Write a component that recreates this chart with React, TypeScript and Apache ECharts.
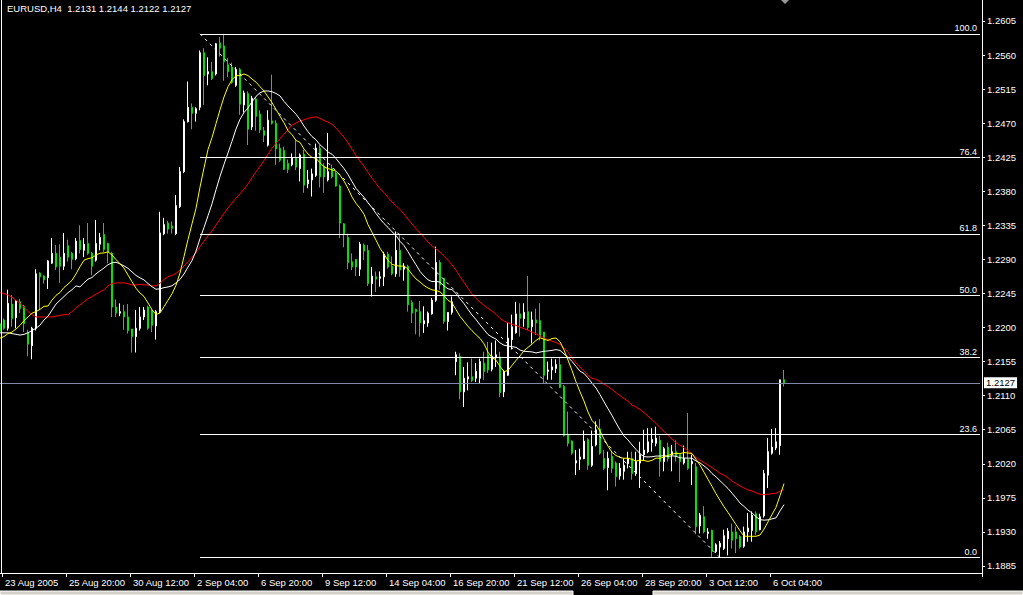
import React, { useEffect, useRef } from "react";
import * as echarts from "echarts";

// EURUSD H4 bars, 23 Aug 2005 00:00 onward
const open = [
  1.2205, 1.2210, 1.2199, 1.2231, 1.2213, 1.2234, 1.2228, 1.2193, 1.2176, 1.2199,
  1.2272, 1.2268, 1.2266, 1.2285, 1.2298, 1.2293, 1.2281, 1.2308, 1.2298, 1.2291,
  1.2315, 1.2302, 1.2311, 1.2298, 1.2289, 1.2310, 1.2323, 1.2311, 1.2298, 1.2227,
  1.2219, 1.2221, 1.2214, 1.2198, 1.2188, 1.2199, 1.2214, 1.2227, 1.2223, 1.2202,
  1.2221, 1.2324, 1.2338, 1.2334, 1.2324, 1.2360, 1.2406, 1.2472, 1.2491, 1.2483,
  1.2491, 1.2563, 1.2535, 1.2538, 1.2535, 1.2576, 1.2572, 1.2547, 1.2544, 1.2520,
  1.2541, 1.2494, 1.2509, 1.2465, 1.2502, 1.2482, 1.2460, 1.2441, 1.2473, 1.2470,
  1.2437, 1.2434, 1.2417, 1.2415, 1.2424, 1.2410, 1.2429, 1.2390, 1.2395, 1.2401,
  1.2437, 1.2413, 1.2395, 1.2410, 1.2404, 1.2387, 1.2337, 1.2319, 1.2287, 1.2290,
  1.2277, 1.2309, 1.2302, 1.2258, 1.2267, 1.2265, 1.2267, 1.2297, 1.2281, 1.2271,
  1.2302, 1.2277, 1.2281, 1.2233, 1.2224, 1.2221, 1.2205, 1.2206, 1.2218, 1.2236,
  1.2286, 1.2265, 1.2208, 1.2220, 1.2155, 1.2162, 1.2115, 1.2132, 1.2135, 1.2133,
  1.2133, 1.2153, 1.2164, 1.2145, 1.2160, 1.2161, 1.2115, 1.2137, 1.2184, 1.2193,
  1.2218, 1.2212, 1.2221, 1.2201, 1.2210, 1.2209, 1.2194, 1.2142, 1.2144, 1.2146,
  1.2151, 1.2122, 1.2059, 1.2050, 1.2021, 1.2026, 1.2027, 1.2052, 1.2018, 1.2045,
  1.2066, 1.2027, 1.2015, 1.2030, 1.2021, 1.2004, 1.2010, 1.2020, 1.2027, 1.2007,
  1.2021, 1.2032, 1.2036, 1.2048, 1.2047, 1.2051, 1.2023, 1.2042, 1.2032, 1.2036,
  1.2032, 1.2021, 1.2026, 1.2020, 1.2016, 1.1938, 1.1950, 1.1928, 1.1932, 1.1904,
  1.1910, 1.1908, 1.1921, 1.1930, 1.1930, 1.1924, 1.1911, 1.1930, 1.1932, 1.1954,
  1.1933, 1.1951, 1.2005, 1.2034, 1.2041, 1.2044, 1.2131,
];

const high = [
  1.2212, 1.2212, 1.2250, 1.2243, 1.2236, 1.2238, 1.2230, 1.2197, 1.2201, 1.2277,
  1.2273, 1.2269, 1.2289, 1.2318, 1.2309, 1.2310, 1.2325, 1.2316, 1.2300, 1.2318,
  1.2335, 1.2318, 1.2338, 1.2300, 1.2342, 1.2325, 1.2338, 1.2312, 1.2300, 1.2237,
  1.2232, 1.2230, 1.2231, 1.2198, 1.2223, 1.2227, 1.2227, 1.2229, 1.2224, 1.2223,
  1.2353, 1.2345, 1.2341, 1.2340, 1.2375, 1.2412, 1.2475, 1.2525, 1.2496, 1.2491,
  1.2566, 1.2569, 1.2557, 1.2551, 1.2576, 1.2584, 1.2588, 1.2556, 1.2550, 1.2544,
  1.2543, 1.2513, 1.2512, 1.2506, 1.2505, 1.2487, 1.2465, 1.2487, 1.2534, 1.2474,
  1.2443, 1.2439, 1.2422, 1.2430, 1.2448, 1.2430, 1.2435, 1.2408, 1.2410, 1.2443,
  1.2441, 1.2417, 1.2457, 1.2415, 1.2406, 1.2389, 1.2338, 1.2324, 1.2298, 1.2290,
  1.2313, 1.2311, 1.2309, 1.2280, 1.2274, 1.2274, 1.2300, 1.2300, 1.2294, 1.2327,
  1.2324, 1.2285, 1.2283, 1.2236, 1.2225, 1.2235, 1.2228, 1.2221, 1.2239, 1.2307,
  1.2289, 1.2265, 1.2220, 1.2241, 1.2168, 1.2166, 1.2148, 1.2154, 1.2159, 1.2153,
  1.2159, 1.2168, 1.2181, 1.2180, 1.2183, 1.2168, 1.2144, 1.2206, 1.2217, 1.2234,
  1.2232, 1.2232, 1.2268, 1.2221, 1.2225, 1.2232, 1.2194, 1.2155, 1.2159, 1.2158,
  1.2161, 1.2124, 1.2089, 1.2051, 1.2038, 1.2040, 1.2064, 1.2054, 1.2064, 1.2076,
  1.2079, 1.2038, 1.2036, 1.2036, 1.2023, 1.2021, 1.2027, 1.2036, 1.2036, 1.2036,
  1.2049, 1.2065, 1.2067, 1.2067, 1.2069, 1.2057, 1.2042, 1.2048, 1.2045, 1.2051,
  1.2032, 1.2044, 1.2087, 1.2032, 1.2021, 1.1955, 1.1964, 1.1935, 1.1933, 1.1915,
  1.1918, 1.1933, 1.1935, 1.1941, 1.1937, 1.1926, 1.1937, 1.1955, 1.1957, 1.1957,
  1.1954, 1.2012, 1.2054, 1.2066, 1.2067, 1.2131, 1.2144,
];

const low = [
  1.2188, 1.2197, 1.2196, 1.2201, 1.2199, 1.2219, 1.2194, 1.2162, 1.2158, 1.2196,
  1.2223, 1.2258, 1.2251, 1.2284, 1.2276, 1.2259, 1.2276, 1.2287, 1.2277, 1.2289,
  1.2298, 1.2293, 1.2296, 1.2269, 1.2287, 1.2302, 1.2300, 1.2285, 1.2214, 1.2214,
  1.2215, 1.2197, 1.2192, 1.2167, 1.2167, 1.2196, 1.2210, 1.2197, 1.2194, 1.2184,
  1.2219, 1.2322, 1.2324, 1.2324, 1.2322, 1.2358, 1.2404, 1.2471, 1.2462, 1.2472,
  1.2487, 1.2494, 1.2520, 1.2527, 1.2533, 1.2558, 1.2526, 1.2531, 1.2522, 1.2518,
  1.2481, 1.2484, 1.2441, 1.2461, 1.2460, 1.2457, 1.2445, 1.2439, 1.2468, 1.2415,
  1.2419, 1.2408, 1.2404, 1.2413, 1.2408, 1.2393, 1.2378, 1.2384, 1.2373, 1.2399,
  1.2385, 1.2378, 1.2393, 1.2397, 1.2386, 1.2318, 1.2306, 1.2277, 1.2276, 1.2268,
  1.2268, 1.2289, 1.2255, 1.2241, 1.2247, 1.2254, 1.2255, 1.2278, 1.2269, 1.2267,
  1.2267, 1.2262, 1.2221, 1.2206, 1.2191, 1.2188, 1.2193, 1.2201, 1.2217, 1.2234,
  1.2250, 1.2205, 1.2196, 1.2217, 1.2137, 1.2105, 1.2095, 1.2117, 1.2128, 1.2128,
  1.2126, 1.2131, 1.2140, 1.2142, 1.2148, 1.2108, 1.2108, 1.2136, 1.2171, 1.2192,
  1.2188, 1.2201, 1.2197, 1.2179, 1.2190, 1.2183, 1.2126, 1.2131, 1.2131, 1.2140,
  1.2120, 1.2056, 1.2043, 1.2032, 1.2005, 1.2012, 1.2026, 1.2012, 1.2016, 1.2043,
  1.2032, 1.2012, 1.1985, 1.2008, 1.1990, 1.1999, 1.1999, 1.2014, 1.1999, 1.2004,
  1.1988, 1.2025, 1.2034, 1.2036, 1.2043, 1.2003, 1.2010, 1.2023, 1.2010, 1.2023,
  1.1996, 1.2019, 1.2012, 1.1992, 1.1927, 1.1928, 1.1928, 1.1921, 1.1897, 1.1902,
  1.1896, 1.1906, 1.1899, 1.1908, 1.1902, 1.1908, 1.1909, 1.1917, 1.1917, 1.1926,
  1.1932, 1.1949, 1.1988, 1.2032, 1.2038, 1.2032, 1.2122,
];

const close = [
  1.2195, 1.2199, 1.2232, 1.2212, 1.2235, 1.2225, 1.2205, 1.2178, 1.2199, 1.2271,
  1.2267, 1.2263, 1.2288, 1.2298, 1.2280, 1.2281, 1.2298, 1.2293, 1.2290, 1.2314,
  1.2303, 1.2310, 1.2298, 1.2281, 1.2311, 1.2319, 1.2303, 1.2299, 1.2227, 1.2219,
  1.2221, 1.2214, 1.2196, 1.2188, 1.2199, 1.2214, 1.2223, 1.2199, 1.2203, 1.2221,
  1.2325, 1.2336, 1.2330, 1.2331, 1.2361, 1.2406, 1.2472, 1.2491, 1.2483, 1.2489,
  1.2563, 1.2533, 1.2538, 1.2529, 1.2575, 1.2569, 1.2551, 1.2538, 1.2524, 1.2541,
  1.2495, 1.2510, 1.2462, 1.2503, 1.2479, 1.2461, 1.2454, 1.2474, 1.2470, 1.2436,
  1.2421, 1.2409, 1.2409, 1.2424, 1.2412, 1.2428, 1.2388, 1.2395, 1.2403, 1.2437,
  1.2399, 1.2399, 1.2406, 1.2399, 1.2387, 1.2338, 1.2324, 1.2286, 1.2280, 1.2280,
  1.2310, 1.2301, 1.2258, 1.2268, 1.2264, 1.2267, 1.2297, 1.2280, 1.2271, 1.2302,
  1.2276, 1.2281, 1.2230, 1.2219, 1.2221, 1.2206, 1.2209, 1.2219, 1.2236, 1.2286,
  1.2256, 1.2208, 1.2220, 1.2234, 1.2164, 1.2115, 1.2133, 1.2135, 1.2130, 1.2142,
  1.2155, 1.2142, 1.2144, 1.2162, 1.2164, 1.2114, 1.2142, 1.2186, 1.2201, 1.2218,
  1.2212, 1.2220, 1.2200, 1.2210, 1.2206, 1.2188, 1.2137, 1.2144, 1.2148, 1.2151,
  1.2121, 1.2057, 1.2047, 1.2034, 1.2024, 1.2029, 1.2050, 1.2018, 1.2043, 1.2065,
  1.2034, 1.2014, 1.2027, 1.2014, 1.2003, 1.2014, 1.2018, 1.2027, 1.2007, 1.2023,
  1.2032, 1.2038, 1.2049, 1.2052, 1.2054, 1.2023, 1.2040, 1.2027, 1.2036, 1.2030,
  1.2023, 1.2027, 1.2014, 1.2023, 1.1937, 1.1952, 1.1930, 1.1930, 1.1904, 1.1913,
  1.1915, 1.1925, 1.1931, 1.1919, 1.1921, 1.1910, 1.1930, 1.1935, 1.1952, 1.1930,
  1.1950, 1.2007, 1.2036, 1.2042, 1.2049, 1.2131, 1.2127,
];

// Moving-average values on the first bars, before each window is full
const ma13Lead = [1.2186, 1.2188, 1.2192, 1.2194, 1.2198, 1.2203, 1.2209, 1.2214, 1.2219, 1.2221, 1.2224, 1.2228];
const ma21Lead = [
  1.2193, 1.2193, 1.2193, 1.2192, 1.2191, 1.2190, 1.2191, 1.2193, 1.2196, 1.2199,
  1.2203, 1.2210, 1.2215, 1.2223, 1.2231, 1.2236, 1.2241, 1.2246, 1.2250, 1.2255,
];
const ma34Lead = [
  1.2246, 1.2245, 1.2243, 1.2240, 1.2236, 1.2232, 1.2227, 1.2221, 1.2217, 1.2214,
  1.2214, 1.2214, 1.2214, 1.2214, 1.2215, 1.2216, 1.2217, 1.2217, 1.2221, 1.2226,
  1.2230, 1.2234, 1.2238, 1.2241, 1.2244, 1.2247, 1.2250, 1.2255, 1.2258, 1.2259,
  1.2259, 1.2259, 1.2258,
];

const tickLabels = [
  "23 Aug 2005", "25 Aug 20:00", "30 Aug 12:00", "2 Sep 04:00", "6 Sep 20:00",
  "9 Sep 12:00", "14 Sep 04:00", "16 Sep 20:00", "21 Sep 12:00", "26 Sep 04:00",
  "28 Sep 20:00", "3 Oct 12:00", "6 Oct 04:00",
];

const priceTicks = [
  1.2605, 1.2560, 1.2515, 1.2470, 1.2425, 1.2380, 1.2335, 1.2290, 1.2245,
  1.2200, 1.2155, 1.2110, 1.2065, 1.2020, 1.1975, 1.1930, 1.1885,
];

// Fibonacci retracement drawn from the swing high to the swing low
const fibLevels = [100.0, 76.4, 61.8, 50.0, 38.2, 23.6, 0.0];
const fibHigh = 1.2588;
const fibLow = 1.1896;
const fibHighBar = 50;
const fibLowBar = 180;

const symbolName = "EURUSD";
const periodName = "H4";

// ---- layout / style ----
const SLOTS = 246; // bar slots across the plot, including the empty right margin
const LABEL_EVERY = 16;
const Y_MIN = 1.18757;
const Y_MAX = 1.26327;
const FONT = "'Liberation Sans', Arial, sans-serif";
const BULL = "#ffffff";
const BEAR = "#00e400";

function barTimes(count: number): string[] {
  const months = ["Jan", "Feb", "Mar", "Apr", "May", "Jun", "Jul", "Aug", "Sep", "Oct", "Nov", "Dec"];
  const out: string[] = [];
  let t = Date.UTC(2005, 7, 23, 0, 0);
  while (out.length < count) {
    const d = new Date(t);
    const wd = d.getUTCDay();
    if (wd !== 0 && wd !== 6) {
      const hh = String(d.getUTCHours()).padStart(2, "0");
      out.push(`${d.getUTCDate()} ${months[d.getUTCMonth()]} ${d.getUTCFullYear()} ${hh}:00`);
    }
    t += 4 * 3600 * 1000;
  }
  return out;
}

function movingAverage(values: number[], period: number, lead: number[]): number[] {
  return values.map((_, i) => {
    if (i < period - 1) return lead[i];
    let s = 0;
    for (let j = i - period + 1; j <= i; j++) s += values[j];
    return +(s / period).toFixed(5);
  });
}

const isTickIndex = (i: number) => (i - 1) % LABEL_EVERY === 0 && (i - 1) / LABEL_EVERY < tickLabels.length;

function buildOption(): any {
  const categories = barTimes(SLOTS);
  const candles = open.map((o, i) => [o, close[i], low[i], high[i]]);
  const last = open.length - 1;
  const bid = close[last];
  const titleText = `${symbolName},${periodName}  ${open[last].toFixed(4)} ${high[last].toFixed(4)} ${low[last].toFixed(4)} ${close[last].toFixed(4)}`;
  const fibPrice = (lvl: number) => fibLow + (fibHigh - fibLow) * (lvl / 100);

  const maSeries = (name: string, data: number[], color: string) => ({
    name,
    type: "line",
    data,
    showSymbol: false,
    symbol: "none",
    silent: true,
    z: 4,
    lineStyle: { color, width: 1 },
  });

  return {
    animation: false,
    backgroundColor: "#000000",
    title: {
      text: titleText,
      left: 7,
      top: 3,
      padding: 0,
      textStyle: { color: "#ffffff", fontSize: 9.5, fontWeight: "normal", fontFamily: FONT },
    },
    grid: { left: -2, right: 41, top: 0, bottom: 22, containLabel: false, outerBoundsMode: "none" },
    xAxis: {
      type: "category",
      data: categories,
      boundaryGap: true,
      axisLine: { show: true, lineStyle: { color: "#ffffff", width: 1 } },
      axisTick: {
        show: true,
        alignWithLabel: false,
        interval: (i: number) => isTickIndex(i),
        length: 4,
        lineStyle: { color: "#ffffff" },
      },
      axisLabel: {
        show: true,
        interval: (i: number) => isTickIndex(i),
        formatter: (_v: string, i: number) => (isTickIndex(i) ? tickLabels[(i - 1) / LABEL_EVERY] : ""),
        align: "left",
        color: "#ffffff",
        fontSize: 9.5,
        fontFamily: FONT,
        margin: 4,
        padding: [0, 0, 0, 1],
      },
      splitLine: { show: false },
    },
    yAxis: {
      type: "value",
      position: "right",
      min: Y_MIN,
      max: Y_MAX,
      scale: true,
      axisLine: { show: true, lineStyle: { color: "#ffffff", width: 1 } },
      axisTick: { show: true, customValues: priceTicks, length: 3, lineStyle: { color: "#ffffff" } },
      axisLabel: {
        show: true,
        customValues: priceTicks,
        formatter: (v: number) => v.toFixed(4),
        color: "#ffffff",
        fontSize: 9.5,
        fontFamily: FONT,
        margin: 5,
      },
      splitLine: { show: false },
    },
    series: [
      {
        name: "Fibo",
        type: "line",
        data: [],
        z: 1,
        silent: true,
        markLine: {
          silent: true,
          symbol: ["none", "none"],
          animation: false,
          lineStyle: { color: "#ffffff", width: 1, type: "solid" },
          label: {
            show: true,
            position: "insideEndTop",
            distance: [3, 1],
            color: "#ffffff",
            fontSize: 9,
            fontFamily: FONT,
          },
          data: [
            ...fibLevels.map((lvl) => [
              { coord: [fibHighBar, fibPrice(lvl)], label: { formatter: lvl.toFixed(1) } },
              { coord: [SLOTS - 1, fibPrice(lvl)] },
            ]),
            [
              {
                coord: [fibHighBar, fibHigh],
                label: { show: false },
                lineStyle: { color: "#ffffff", width: 1, type: [3, 4] },
              },
              { coord: [fibLowBar, fibLow] },
            ],
          ],
        },
      },
      {
        name: "Bid",
        type: "line",
        data: [],
        z: 2,
        silent: true,
        markLine: {
          silent: true,
          symbol: ["none", "none"],
          animation: false,
          lineStyle: { color: "#7d8ca3", width: 1, type: "solid" },
          label: {
            show: true,
            position: "end",
            distance: 4,
            formatter: bid.toFixed(4),
            color: "#000000",
            backgroundColor: "#ffffff",
            padding: [1, 2, 0, 2],
            fontSize: 9.5,
            fontFamily: FONT,
          },
          data: [[{ coord: [0, bid] }, { coord: [SLOTS - 1, bid] }]],
        },
      },
      {
        name: symbolName,
        type: "candlestick",
        data: candles,
        barWidth: 2,
        z: 3,
        silent: true,
        itemStyle: {
          color: BULL,
          color0: BEAR,
          borderColor: BULL,
          borderColor0: BEAR,
          borderWidth: 1,
        },
      },
      maSeries("MA 34", movingAverage(close, 34, ma34Lead), "#ff0000"),
      maSeries("MA 21", movingAverage(close, 21, ma21Lead), "#ffffff"),
      maSeries("MA 13", movingAverage(close, 13, ma13Lead), "#ffff00"),
    ],
    graphic: [
      {
        type: "line",
        silent: true,
        shape: { x1: 1.5, y1: 0, x2: 1.5, y2: 573 },
        style: { stroke: "#ffffff", lineWidth: 1 },
        z: 10,
      },
      {
        type: "polygon",
        silent: true,
        shape: { points: [[781, 0], [789, 0], [785, 4]] },
        style: { fill: "#9a9a9a" },
        z: 10,
      },
      {
        type: "rect",
        silent: true,
        shape: { x: 0, y: 591, width: 573, height: 4 },
        style: { fill: "#d4d0c8", stroke: "#ffffff", lineWidth: 1 },
        z: 10,
      },
      {
        type: "rect",
        silent: true,
        shape: { x: 653, y: 591, width: 370, height: 4 },
        style: { fill: "#d4d0c8", stroke: "#ffffff", lineWidth: 1 },
        z: 10,
      },
    ],
  };
}

export default function App() {
  const ref = useRef<HTMLDivElement>(null);
  useEffect(() => {
    const el = ref.current;
    if (!el) return;
    const chart = echarts.init(el, undefined, { renderer: "svg" });
    chart.setOption(buildOption());
    return () => chart.dispose();
  }, []);
  return (
    <div
      ref={ref}
      style={{ position: "fixed", left: 0, top: 0, width: 1023, height: 595, background: "#000000" }}
    />
  );
}
